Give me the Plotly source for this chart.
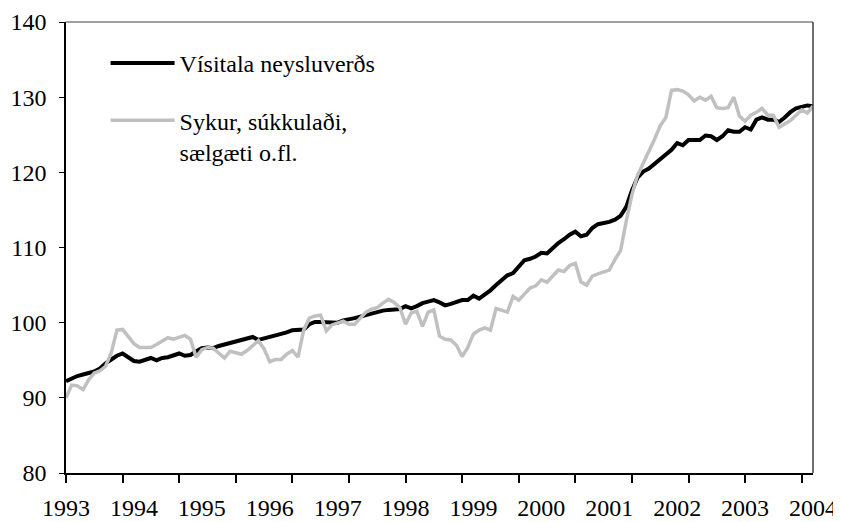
import plotly.graph_objects as go

# Monthly index, Jan 1993 (0) .. Jan 2004 (132)
months = list(range(133))

cpi = [92.2, 92.6, 92.9, 93.1, 93.3, 93.5, 93.9, 94.6, 95.1, 95.6, 95.9, 95.4,
       94.9, 94.8, 95.0, 95.3, 95.0, 95.3, 95.4, 95.7, 95.9, 95.6, 95.7, 96.2,
       96.6, 96.7, 96.6, 96.9, 97.1, 97.3, 97.5, 97.7, 97.8, 98.1, 97.7, 97.9,
       98.1, 98.3, 98.4, 98.7, 99.0, 99.0, 99.1, 99.8, 100.1, 100.1, 100.1, 100.0,
       100.0, 100.3, 100.4, 100.6, 100.8, 101.0, 101.3, 101.5, 101.6, 101.7, 101.8, 101.8,
       102.2, 101.9, 102.2, 102.6, 102.8, 103.0, 102.7, 102.3, 102.5, 102.7, 103.0, 103.0,
       103.6, 103.2, 103.7, 104.3, 105.0, 105.7, 106.3, 106.6, 107.5, 108.3, 108.5, 108.8,
       109.3, 109.2, 109.9, 110.6, 111.1, 111.7, 112.1, 111.5, 111.7, 112.6, 113.1, 113.2,
       113.4, 113.7, 114.2, 115.4, 117.6, 119.3, 120.1, 120.5, 121.1, 121.8, 122.4, 123.0,
       123.9, 123.6, 124.3, 124.3, 124.3, 124.9, 124.8, 124.3, 124.8, 125.6, 125.4, 125.4,
       126.0, 125.7, 127.0, 127.3, 127.0, 127.0, 126.7, 127.3, 128.0, 128.5, 128.7, 128.9,
       128.8]

sugar = [90.0, 91.7, 91.6, 91.1, 92.4, 93.3, 93.6, 94.2, 96.0, 99.0, 99.1, 98.2,
         97.2, 96.7, 96.7, 96.7, 97.1, 97.6, 98.0, 97.8, 98.1, 98.3, 97.8, 95.4,
         96.4, 96.7, 96.6, 95.9, 95.3, 96.2, 96.0, 95.8, 96.3, 97.0, 97.6, 96.5,
         94.8, 95.1, 95.1, 95.8, 96.3, 95.4, 99.0, 100.6, 100.9, 101.0, 98.9, 99.7,
         100.0, 100.2, 99.8, 99.8, 100.6, 101.4, 101.8, 102.0, 102.6, 103.1, 102.7, 102.0,
         99.8, 101.3, 101.5, 99.5, 101.4, 101.7, 98.2, 97.8, 97.7, 97.0, 95.5, 96.7,
         98.5, 99.0, 99.3, 99.0, 101.9, 101.6, 101.4, 103.5, 103.0, 103.8, 104.6, 104.9,
         105.7, 105.4, 106.2, 107.0, 106.8, 107.6, 107.9, 105.4, 105.0, 106.2, 106.5, 106.7,
         107.0, 108.4, 109.6, 113.5, 117.0, 119.6, 121.3, 122.8, 124.4, 126.2, 127.3, 130.9,
         131.0, 130.8, 130.3, 129.5, 130.0, 129.6, 130.1, 128.6, 128.5, 128.6, 130.0, 127.5,
         126.8, 127.6, 128.0, 128.5, 127.6, 127.6, 126.0, 126.4, 126.9, 127.6, 128.3, 127.9,
         128.8]

year_labels = [str(y) for y in range(1993, 2005)]
year_positions = [12 * i for i in range(len(year_labels))]
x_tick_marks = list(range(0, 131, 10))
y_ticks = [80, 90, 100, 110, 120, 130, 140]

FONT = "Liberation Serif, Times New Roman, serif"

fig = go.Figure()
fig.add_trace(go.Scatter(x=months, y=cpi, mode="lines", name="Vísitala neysluverðs",
                         line=dict(color="#000000", width=4), legendgroup="a"))
fig.add_trace(go.Scatter(x=months, y=sugar, mode="lines",
                         name="Sykur, súkkulaði,<br>sælgæti o.fl.",
                         line=dict(color="#c0c0c0", width=3.5), legendgroup="b"))
# carrier for the year-label axis (no visible marks)
fig.add_trace(go.Scatter(x=year_positions, y=[None] * len(year_positions),
                         xaxis="x2", mode="lines", showlegend=False,
                         hoverinfo="skip"))

# page body has an 8px margin, so the figure is sized 833x514
fig.update_layout(
    width=833, height=514,
    margin=dict(l=58, r=28, t=14, b=49, autoexpand=False),
    paper_bgcolor="white", plot_bgcolor="white",
    font=dict(family=FONT, size=24, color="#000000"),
    showlegend=True,
    legend=dict(x=0.053, y=0.958, xanchor="left", yanchor="top",
                bgcolor="rgba(0,0,0,0)", font=dict(family=FONT, size=24),
                valign="top", tracegroupgap=23, itemwidth=64),
    xaxis=dict(range=[0, 132], showgrid=False, zeroline=False, automargin=False,
               showline=True, linecolor="#000000", linewidth=1.5,
               tickmode="array", tickvals=x_tick_marks, showticklabels=False,
               ticks="outside", ticklen=8, tickcolor="#000000", tickwidth=1.5),
    xaxis2=dict(range=[0, 132], overlaying="x", anchor="y", side="bottom",
                showgrid=False, zeroline=False, automargin=False, showline=False,
                tickmode="array", tickvals=year_positions, ticktext=year_labels,
                ticks="", ticklabelstandoff=18,
                tickfont=dict(family=FONT, size=24)),
    yaxis=dict(range=[80, 140], tickvals=y_ticks, showgrid=False, zeroline=False,
               automargin=False,
               showline=True, linecolor="#000000", linewidth=1.5,
               ticks="outside", ticklen=5, tickcolor="#000000",
               ticklabelstandoff=8, tickfont=dict(family=FONT, size=24)),
    shapes=[
        dict(type="line", xref="paper", yref="paper", x0=0, x1=1, y0=1, y1=1,
             line=dict(color="#808080", width=1.5)),
        dict(type="line", xref="paper", yref="paper", x0=1, x1=1, y0=0, y1=1,
             line=dict(color="#404040", width=1.5)),
    ],
)

fig.write_html("out.html")
